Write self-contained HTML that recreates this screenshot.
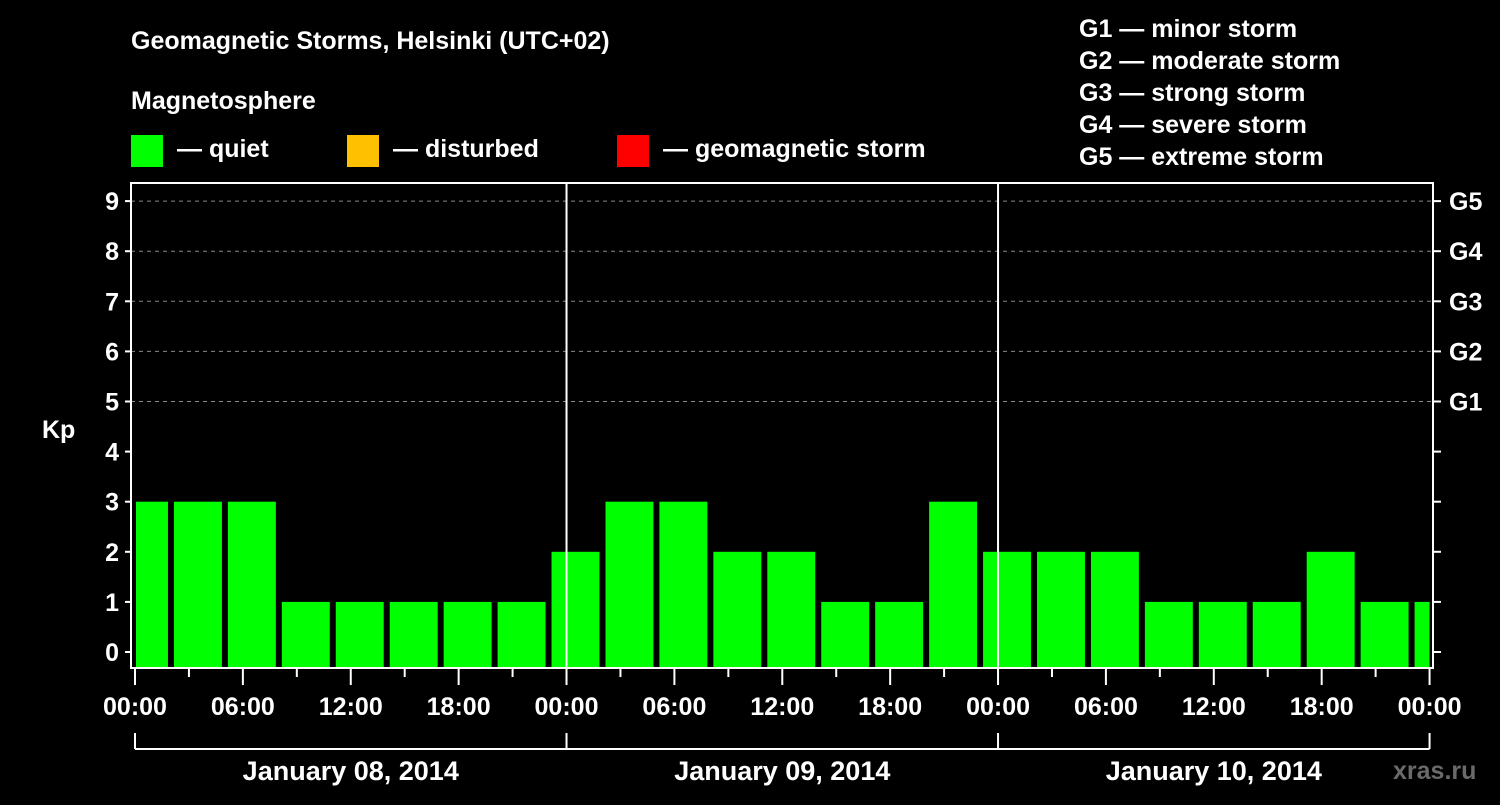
<!DOCTYPE html>
<html><head><meta charset="utf-8"><style>
body{margin:0;background:#000;width:1500px;height:800px;overflow:hidden}
svg text{font-family:"Liberation Sans",sans-serif;font-weight:bold;fill:#fff}
</style></head><body>
<svg id="chart" width="1500" height="800" xmlns="http://www.w3.org/2000/svg">
<rect width="1500" height="800" fill="#000"/>
<text x="131" y="49" font-size="25">Geomagnetic Storms, Helsinki (UTC+02)</text>
<text x="131" y="109" font-size="25">Magnetosphere</text>
<rect x="131" y="135" width="32" height="32" fill="#00ff00"/>
<text x="177" y="157" font-size="25">— quiet</text>
<rect x="347" y="135" width="32" height="32" fill="#ffc000"/>
<text x="393" y="157" font-size="25">— disturbed</text>
<rect x="617" y="135" width="32" height="32" fill="#ff0000"/>
<text x="663" y="157" font-size="25">— geomagnetic storm</text>
<g font-size="25">
<text x="1079" y="37">G1 — minor storm</text>
<text x="1079" y="69">G2 — moderate storm</text>
<text x="1079" y="101">G3 — strong storm</text>
<text x="1079" y="133">G4 — severe storm</text>
<text x="1079" y="165">G5 — extreme storm</text>
</g>
<text x="42" y="438" font-size="25">Kp</text>
<text x="1393" y="779" font-size="25" fill="#666" style="fill:#6a6a6a">xras.ru</text>
<g id="plot"></g>
</svg>
<script>
const kpValues=[3,3,3,1,1,1,1,1,2,3,3,2,2,1,1,3,2,2,2,1,1,1,2,1,1];
const yTicks=[0,1,2,3,4,5,6,7,8,9];
const gLabels=["G1","G2","G3","G4","G5"];
const hourLabels=["00:00","06:00","12:00","18:00"];
const dayLabels=["January 08, 2014","January 09, 2014","January 10, 2014"];
const NS="http://www.w3.org/2000/svg";
const plot=document.getElementById('plot');
const X0=135,PX_H=17.98,L=131,R=1433,T=183,B=668;
const x=h=>X0+h*PX_H;
const y=v=>652-v*50.1;
function mk(tag,attrs){const e=document.createElementNS(NS,tag);for(const k in attrs)e.setAttribute(k,attrs[k]);plot.appendChild(e);return e;}
// grid
for(let v=5;v<=9;v++){const g=mk('line',{x1:L,x2:R,y1:y(v),y2:y(v),stroke:'#888','stroke-dasharray':'4,4','stroke-width':1});

}
// bars
kpValues.forEach((v,i)=>{const c=-2.5+3*i+3;let x1=x(c-1.5)+3,x2=x(c+1.5)-3;x1=Math.max(x1,X0+1);x2=Math.min(x2,x(72));
const r=mk('rect',{x:x1,y:y(v),width:x2-x1,height:B-1-y(v),fill:v>=5?'#ff0000':(v>=4?'#ffc000':'#00ff00')});

});
// frame
const f=mk('rect',{x:L,y:T,width:R-L,height:B-T,fill:'none',stroke:'#fff','stroke-width':2});


[24,48].forEach(h=>{const d=mk('line',{x1:x(h),x2:x(h),y1:T,y2:B,stroke:'#fff','stroke-width':2});

});
// y ticks
yTicks.forEach(v=>{mk('line',{x1:L-6,x2:L,y1:y(v),y2:y(v),stroke:'#fff','stroke-width':2});
mk('line',{x1:R,x2:R+8,y1:y(v),y2:y(v),stroke:'#fff','stroke-width':2});
const t=mk('text',{x:L-12,y:y(v)+9,'text-anchor':'end','font-size':25});t.textContent=v;

});
gLabels.forEach((g,i)=>{const t=mk('text',{x:1449,y:y(5+i)+9,'font-size':25});t.textContent=g;

});
// x ticks
for(let h=0;h<=72;h+=3){const maj=h%6===0;mk('line',{x1:x(h),x2:x(h),y1:B,y2:B+(maj?17:9),stroke:'#fff','stroke-width':2});
if(maj){const t=mk('text',{x:x(h),y:B+47,'text-anchor':'middle','font-size':25});t.textContent=hourLabels[(h/6)%4];

}}
// day brackets
mk('line',{x1:x(0),x2:x(72),y1:749,y2:749,stroke:'#fff','stroke-width':2});
for(let d=0;d<=3;d++)mk('line',{x1:x(d*24),x2:x(d*24),y1:733,y2:749,stroke:'#fff','stroke-width':2});
dayLabels.forEach((s,i)=>{const t=mk('text',{x:x(i*24+12),y:780,'text-anchor':'middle','font-size':27});t.textContent=s;

});
</script>
</body></html>
